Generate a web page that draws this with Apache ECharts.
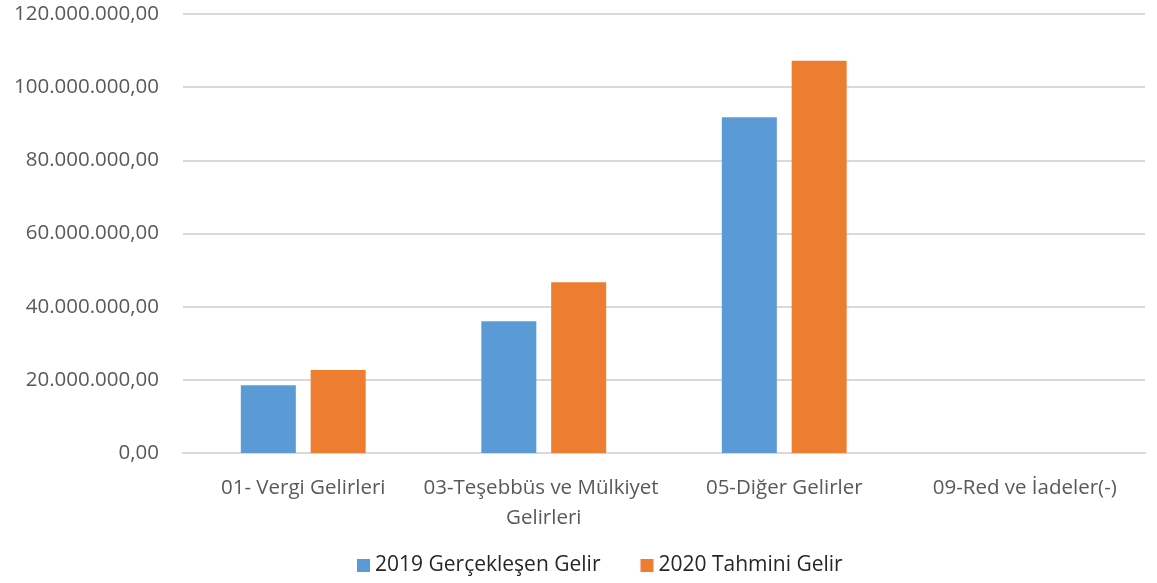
<!DOCTYPE html>
<html>
<head>
<meta charset="utf-8">
<script src="https://cdn.jsdelivr.net/npm/echarts@6/dist/echarts.min.js"></script>
<style>
html,body{margin:0;padding:0;background:#fff;}
#main{width:1157px;height:583px;}
</style>
</head>
<body>
<div id="main"></div>
<script>
var categories = ['01- Vergi Gelirleri', '03-Teşebbüs ve Mülkiyet Gelirleri', '05-Diğer Gelirler', '09-Red ve İadeler(-)'];
var seriesNames = ['2019 Gerçekleşen Gelir', '2020 Tahmini Gelir'];
var gelir2019 = [18550000, 36000000, 91800000, 0];
var gelir2020 = [22700000, 46700000, 107200000, 0];
var colors = ['#5b9bd5', '#ed7d31'];

// 120000000 -> 120.000.000,00
function trFormat(v){
    var s = Math.round(v).toString().replace(/\B(?=(\d{3})+(?!\d))/g, '.');
    return s + ',00';
}

var myChart = echarts.init(document.getElementById('main'));
var option = {
    animation: false,
    color: colors,
    textStyle: {fontFamily: 'Open Sans'},
    grid: {left: 183, right: 12, top: 14, bottom: 130, containLabel: false, outerBoundsMode: 'none'},
    legend: {
        bottom: 2,
        left: 352,
        itemWidth: 13,
        itemHeight: 13,
        itemGap: 40,
        itemTextGap: 8,
        icon: 'rect',
        textStyle: {fontSize: 21, color: '#262626', fontFamily: 'Open Sans'},
        data: seriesNames
    },
    xAxis: {
        type: 'category',
        data: categories,
        axisLine: {lineStyle: {color: '#d9d9d9', width: 2}},
        axisTick: {show: false},
        axisLabel: {
            color: '#595959',
            fontSize: 20.5,
            margin: 20,
            lineHeight: 30,
            width: 290,
            overflow: 'break',
            interval: 0
        }
    },
    yAxis: {
        type: 'value',
        min: 0,
        max: 120000000,
        interval: 20000000,
        axisLine: {show: false},
        axisTick: {show: false},
        splitLine: {lineStyle: {color: '#d9d9d9', width: 2}},
        axisLabel: {
            color: '#595959',
            fontSize: 20.5,
            margin: 24,
            formatter: trFormat
        }
    },
    series: [
        {
            name: seriesNames[0],
            type: 'bar',
            data: gelir2019,
            barWidth: 55,
            barGap: '27%'
        },
        {
            name: seriesNames[1],
            type: 'bar',
            data: gelir2020,
            barWidth: 55,
            barGap: '27%'
        }
    ]
};
myChart.setOption(option);
</script>
</body>
</html>
